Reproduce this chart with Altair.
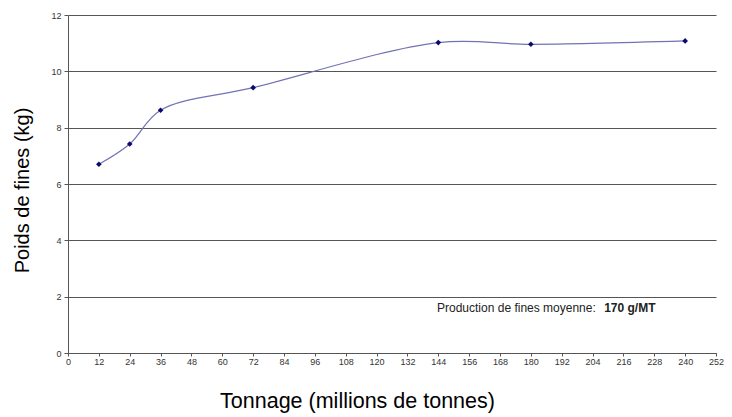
import altair as alt
import pandas as pd

tonnage = [12, 24, 36, 72, 144, 180, 240]
poids = [6.7, 7.42, 8.62, 9.42, 11.02, 10.96, 11.08]

x_ticks = list(range(0, 253, 12))
y_ticks = [0, 2, 4, 6, 8, 10, 12]

note_label = ["Production de fines moyenne:"]
note_value = ["170 g/MT"]
note_x = [143.5, 208.5]
note_y = [1.6]

df = pd.DataFrame({"t": tonnage, "p": poids})

FONT = "Liberation Sans"

x_scale = alt.Scale(domain=[0, 252], nice=False, zero=False)
y_scale = alt.Scale(domain=[0, 12], nice=False)

x_axis = alt.Axis(values=x_ticks, title="Tonnage (millions de tonnes)", grid=False,
                  labelFont=FONT, labelFontSize=9, labelColor="#333333",
                  labelOverlap=False, labelFlush=False, tickCount=len(x_ticks),
                  domainColor="#555555", tickColor="#555555", tickSize=3,
                  labelPadding=1,
                  titleFont=FONT, titleFontSize=21.5, titleFontWeight="normal",
                  titleColor="#000000", titleX=289, titleY=48,
                  titleAlign="center", titleBaseline="middle")
y_axis = alt.Axis(values=y_ticks, title="Poids de fines (kg)", grid=True,
                  gridColor="#555555", gridWidth=1.2,
                  labelFont=FONT, labelFontSize=9, labelColor="#333333",
                  labelOverlap=False,
                  domainColor="#555555", tickColor="#555555", tickSize=4,
                  labelPadding=3,
                  titleFont=FONT, titleFontSize=20, titleFontWeight="normal",
                  titleColor="#000000", titleX=-46, titleY=175, titleAngle=-90,
                  titleAlign="center", titleBaseline="middle")

X = alt.X("t:Q", scale=x_scale, axis=x_axis)
Y = alt.Y("p:Q", scale=y_scale, axis=y_axis)

base = alt.Chart(df)

line = base.mark_line(interpolate="catmull-rom", color="#7272b4", strokeWidth=1.2).encode(x=X, y=Y)

points = base.mark_point(shape="diamond", filled=True, color="#0a0a6e", size=32, opacity=1).encode(x=X, y=Y)

n1 = alt.Chart(pd.DataFrame({"x": [note_x[0]], "y": note_y, "txt": note_label})).mark_text(
    align="left", baseline="middle", font=FONT, fontSize=12, color="#222222"
).encode(x=alt.X("x:Q", scale=x_scale, axis=x_axis), y=alt.Y("y:Q", scale=y_scale, axis=y_axis), text="txt:N")

n2 = alt.Chart(pd.DataFrame({"x": [note_x[1]], "y": note_y, "txt": note_value})).mark_text(
    align="left", baseline="middle", font=FONT, fontSize=12, fontWeight="bold", color="#222222"
).encode(x=alt.X("x:Q", scale=x_scale, axis=x_axis), y=alt.Y("y:Q", scale=y_scale, axis=y_axis), text="txt:N")

chart = alt.layer(line, points, n1, n2).properties(
    width=648, height=338,
    padding={"left": 60, "top": 7, "right": 8, "bottom": 62},
    autosize=alt.AutoSizeParams(type="none"),
    background="white",
).configure_view(stroke=None)

chart.save("out.html", embed_options={"renderer": "svg", "actions": False})
